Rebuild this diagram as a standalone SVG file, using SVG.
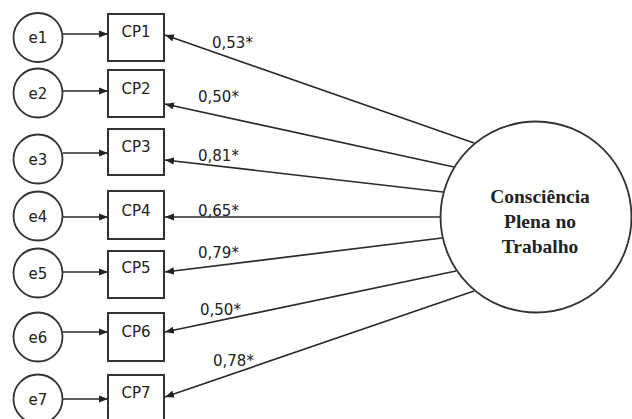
<svg xmlns="http://www.w3.org/2000/svg" width="632" height="419" viewBox="0 0 632 419">
<style>
.err{fill:#fff;stroke:#333;stroke-width:1.8}
.box{fill:#fff;stroke:#333;stroke-width:2}
.lat{fill:#fff;stroke:#333;stroke-width:1.8}
.t{font-family:"DejaVu Sans",Verdana,sans-serif;font-size:15px;fill:#222}
.lt{font-family:"Liberation Serif","Times New Roman",serif;font-size:19.5px;font-weight:bold;fill:#222;text-anchor:middle}
.c{text-anchor:middle}
.ln{stroke:#2a2a2a;stroke-width:1.7;fill:none;marker-end:url(#ah)}
</style>
<defs>
<marker id="ah" viewBox="0 0 10 8" refX="10" refY="4" markerWidth="9" markerHeight="7.5" markerUnits="userSpaceOnUse" orient="auto">
<path d="M0,0 L10,4 L0,8 z" fill="#222"/>
</marker>
</defs>
<g id="connectors">
<line class="ln" x1="63" y1="34" x2="108" y2="34"/>
<line class="ln" x1="63" y1="91" x2="108" y2="91"/>
<line class="ln" x1="63" y1="153" x2="108" y2="153"/>
<line class="ln" x1="63" y1="217" x2="108" y2="217"/>
<line class="ln" x1="63" y1="272" x2="108" y2="272"/>
<line class="ln" x1="63" y1="332" x2="108" y2="332"/>
<line class="ln" x1="63" y1="399" x2="108" y2="399"/>
<line class="ln" x1="474" y1="143" x2="165" y2="35"/>
<line class="ln" x1="454" y1="167" x2="165" y2="104"/>
<line class="ln" x1="443" y1="192" x2="165" y2="160"/>
<line class="ln" x1="440" y1="217" x2="165" y2="217"/>
<line class="ln" x1="442" y1="238" x2="165" y2="272"/>
<line class="ln" x1="456" y1="271" x2="165" y2="332"/>
<line class="ln" x1="474" y1="291" x2="165" y2="397"/>
<text class="t" x="212" y="48">0,53*</text>
<text class="t" x="198" y="102">0,50*</text>
<text class="t" x="198" y="161">0,81*</text>
<text class="t" x="198" y="216">0,65*</text>
<text class="t" x="198" y="258">0,79*</text>
<text class="t" x="200" y="315">0,50*</text>
<text class="t" x="213" y="366">0,78*</text>
</g>
<g id="e1"><circle class="err" cx="38" cy="37.5" r="24.5"/><text class="t c" x="38" y="43">e1</text></g>
<g id="e2"><circle class="err" cx="38" cy="93" r="24.5"/><text class="t c" x="38" y="98.5">e2</text></g>
<g id="e3"><circle class="err" cx="38" cy="159" r="24.5"/><text class="t c" x="38" y="164.5">e3</text></g>
<g id="e4"><circle class="err" cx="38" cy="216" r="24.5"/><text class="t c" x="38" y="221.5">e4</text></g>
<g id="e5"><circle class="err" cx="38" cy="273" r="24.5"/><text class="t c" x="38" y="278.5">e5</text></g>
<g id="e6"><circle class="err" cx="38" cy="337" r="24.5"/><text class="t c" x="38" y="342.5">e6</text></g>
<g id="e7"><circle class="err" cx="38" cy="399" r="24.5"/><text class="t c" x="38" y="404.5">e7</text></g>
<g id="CP1"><rect class="box" x="108" y="14" width="56" height="47"/><text class="t c" x="136" y="37">CP1</text></g>
<g id="CP2"><rect class="box" x="108" y="70" width="56" height="47"/><text class="t c" x="136" y="94">CP2</text></g>
<g id="CP3"><rect class="box" x="108" y="129" width="56" height="46"/><text class="t c" x="136" y="152">CP3</text></g>
<g id="CP4"><rect class="box" x="108" y="191" width="56" height="48"/><text class="t c" x="136" y="216">CP4</text></g>
<g id="CP5"><rect class="box" x="108" y="251" width="56" height="47"/><text class="t c" x="136" y="273">CP5</text></g>
<g id="CP6"><rect class="box" x="108" y="313" width="56" height="48"/><text class="t c" x="136" y="337">CP6</text></g>
<g id="CP7"><rect class="box" x="108" y="375" width="56" height="48"/><text class="t c" x="136" y="398">CP7</text></g>
<g id="CPT">
<circle class="lat" cx="536" cy="217" r="95.5"/>
<text class="lt" x="540" y="203">Consciência</text>
<text class="lt" x="540" y="228">Plena no</text>
<text class="lt" x="540" y="253">Trabalho</text>
</g>
</svg>
